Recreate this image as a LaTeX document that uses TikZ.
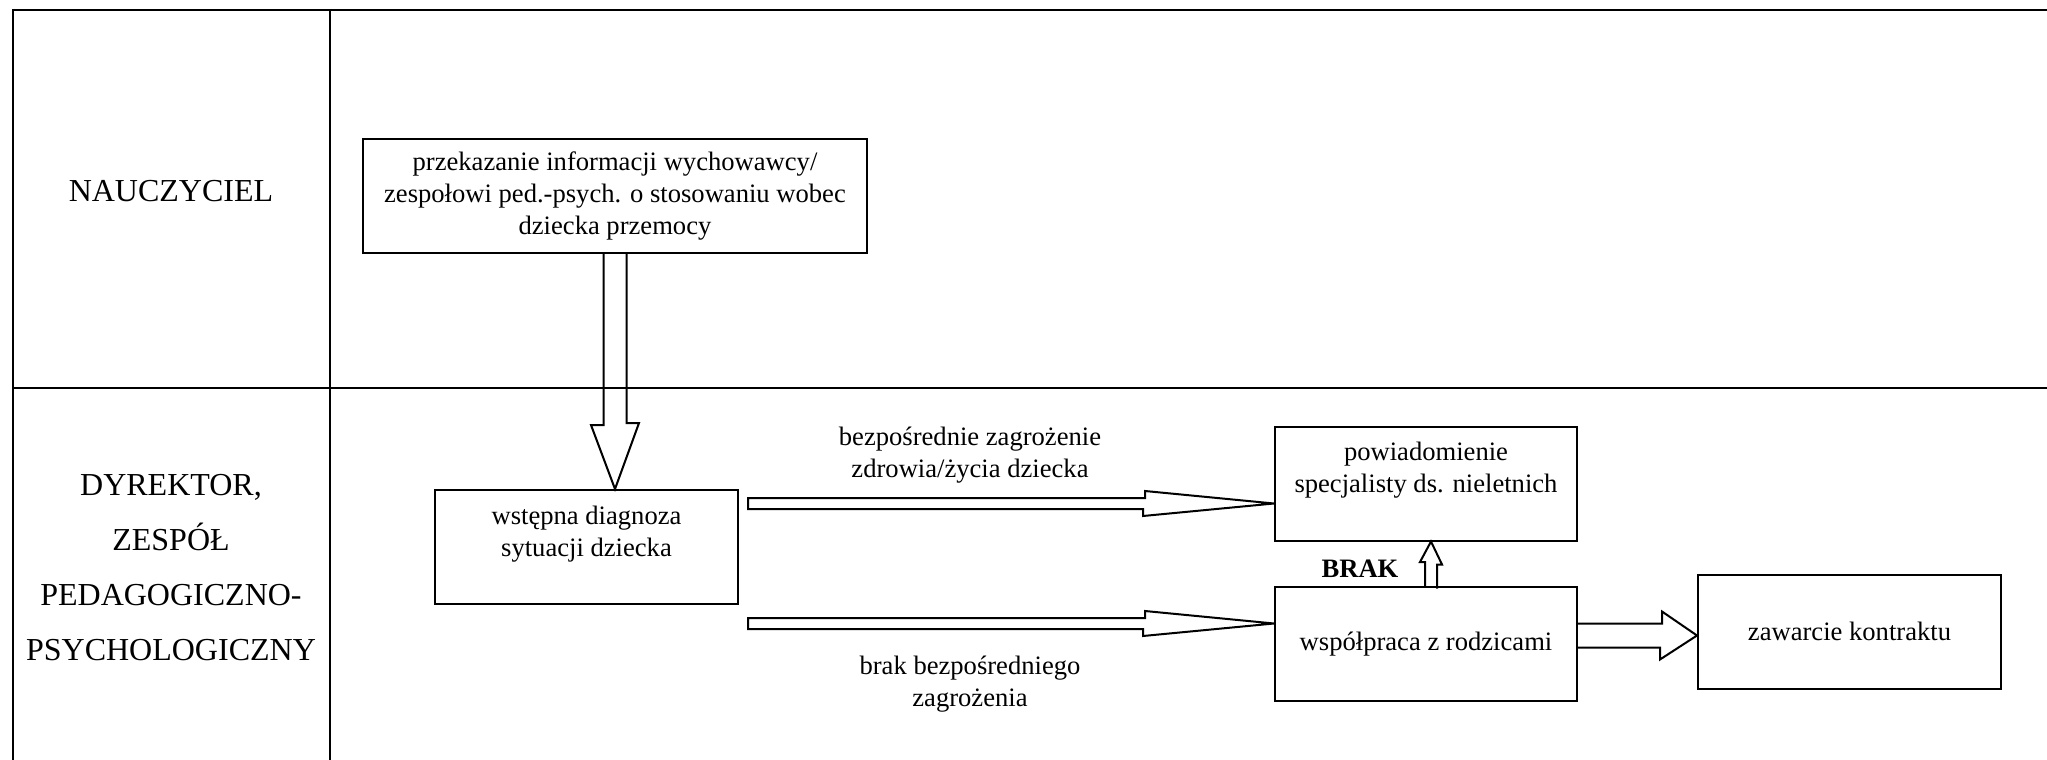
\documentclass[tikz,border=0pt]{standalone}
\usepackage{fontspec}
\setmainfont{Liberation Serif}
\def\pxu{0.5pt}
\tikzset{
  box/.style={draw, line width=1pt, minimum width=#1*\pxu, minimum height=114*\pxu, inner sep=0pt},
  boxtext/.style={align=center, font=\fontsize{13.3}{15.9}\selectfont},
  lane/.style={align=center, font=\fontsize{16}{27.5}\selectfont},
  blockarrow/.style={draw, line width=1pt, line join=miter},
}
\begin{document}
\begin{tikzpicture}[x=\pxu, y=-\pxu]
            \useasboundingbox (0,0) rectangle (2047,760);
            % lanes
            \draw[line width=1.3pt] (13,760) -- (13,10) -- (2047,10);
            \draw[line width=1.3pt] (13,388) -- (2047,388);
            \draw[line width=1.3pt] (330,10) -- (330,760);
            \node[lane] (teacher) at (171,191) {NAUCZYCIEL};
            \node[lane] (head) at (171,568) {DYREKTOR,\\ZESPÓŁ\\PEDAGOGICZNO-\\PSYCHOLOGICZNY};
            % boxes
            \node[box=504, boxtext] (info) at (615,196) {przekazanie informacji wychowawcy/\\zespołowi ped.-psych. o stosowaniu wobec\\dziecka przemocy};
            \node[box=303] (diag) at (586.5,547) {};
            \node[boxtext] (diagtext) at (586.5,534) {wstępna diagnoza\\sytuacji dziecka};
            \node[box=302] (notify) at (1426,483.5) {};
            \node[boxtext] (notifytext) at (1426,470) {powiadomienie\\specjalisty ds. nieletnich};
            \node[box=302, boxtext] (parents) at (1426,644) {współpraca z rodzicami};
            \node[box=303, boxtext] (contract) at (1849.5,631.5) {zawarcie kontraktu};
            % arrow labels
            \node[boxtext] (danger) at (970,455) {bezpośrednie zagrożenie\\zdrowia/życia dziecka};
            \node[boxtext] (nodanger) at (970,684) {brak bezpośredniego\\zagrożenia};
            \node[font=\fontsize{13.3}{15.9}\selectfont\bfseries] (brak) at (1360,569) {BRAK};
            % arrows
            \draw[blockarrow] ([shift={(-11.5,0)}]info.south) -- ++(0,171) -- ++(-12.5,0)
                -- (info.south |- diag.north) -- ++(24,-66) -- ++(-12.5,0) -- ([shift={(11.5,0)}]info.south);
            \coordinate (t1) at ([shift={(0,20)}]notify.west);
            \coordinate (t2) at ([shift={(0,-20.5)}]parents.west);
            \coordinate (s1) at (diag.east |- t1);
            \coordinate (s2) at (diag.east |- t2);
            \foreach \s/\t in {s1/t1, s2/t2} {
                \draw[blockarrow] ([shift={(9,-5.5)}]\s) -- ++(397,0) -- ++(0,-7) -- (\t)
                    -- ++(-131,12.5) -- ++(0,-7) -- ([shift={(9,5.5)}]\s) -- cycle;
            }
            \coordinate (t3) at ([shift={(5,0)}]notify.south);
            \draw[blockarrow] ([shift={(-1,0)}]parents.north) -- ++(0,-24) -- ++(-5,0) -- (t3)
                -- ++(11,23) -- ++(-5,0) -- ++(0,24);
            \coordinate (t4) at ([shift={(0,4)}]contract.west);
            \coordinate (s4) at (parents.east |- t4);
            \draw[blockarrow] ([shift={(0,-12)}]s4) -- ++(84,0) -- ++(0,-12) -- (t4)
                -- ++(-37,24) -- ++(0,-12) -- ([shift={(0,12)}]s4);
        \end{tikzpicture}
\end{document}
